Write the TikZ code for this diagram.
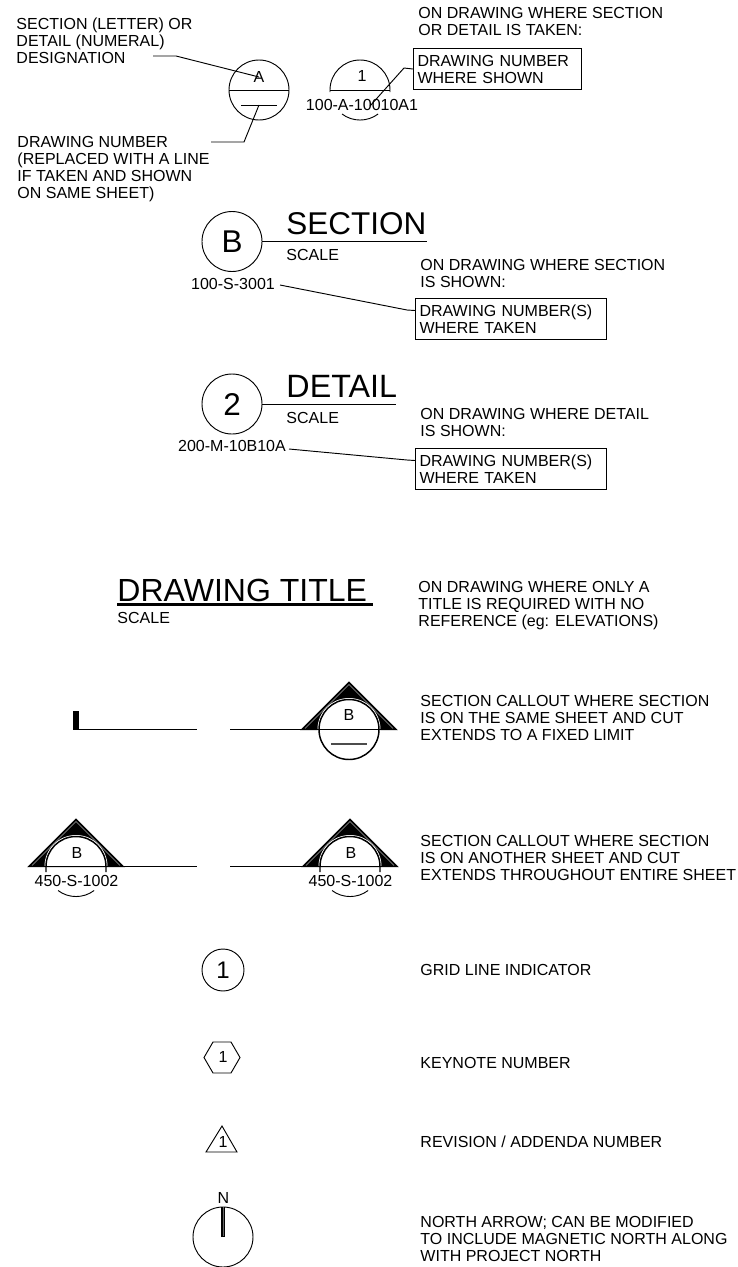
\documentclass[tikz,border=0pt]{standalone}
\usepackage{fontspec}
\setmainfont{Liberation Sans}
\tikzset{
  lbl/.style={font=\fontsize{12}{12.75}\selectfont,align=left,inner sep=0pt,anchor=north west},
  cen/.style={font=\fontsize{12}{12.75}\selectfont,inner sep=0pt},
  big/.style={font=\fontsize{23.6}{24}\selectfont,inner sep=0pt},
  refbox/.style={lbl,draw,line width=.8pt,text width=120pt,minimum height=30.75pt,inner xsep=3pt,inner ysep=0pt},
  heavy/.style={line width=1.1pt}
}
\begin{document}
\begin{tikzpicture}[x=.75pt,y=-.75pt,line width=.7pt]
  \useasboundingbox (0,0) rectangle (738,1267);
  % enlarged detail key
  \draw (259,90) circle(30);
  \coordinate (rule) at (259,105);
  \draw (229,90) -- (289,90);
  \draw (241,105) -- (277,105);
  \node[cen] (lettera) at (259,77) {A};
  \node[lbl] (desig) at (16,17) {SECTION (LETTER) OR\\DETAIL (NUMERAL)\\DESIGNATION};
  \node[lbl] (drawnum) at (17,136) {DRAWING NUMBER\\(REPLACED WITH A LINE\\IF TAKEN AND SHOWN\\ON SAME SHEET)};
  \coordinate (desigend) at (153,56);
  \coordinate (numend) at (211,142);
  \draw (desigend) -- (176,56) -- (lettera.center);
  \draw (numend) -- (244,142) -- (rule);
  \draw (330,92) -- (330,90) arc[start angle=180,end angle=360,radius=30] -- (390,92);
  \draw (330,90) -- (390,90);
  \draw (342,114) arc[start angle=127,end angle=53,radius=30];
  \node[cen] (numone) at (362,76) {1};
  \node[cen] (takena) at (362,105) {100-A-10010A1};
  \node[lbl] (ontaken) at (418,7) {ON DRAWING WHERE SECTION\\OR DETAIL IS TAKEN:};
  \node[refbox] (boxa) at (413,48) {DRAWING NUMBER\\WHERE SHOWN};
  \draw (370,106) -- (404,68) -- (boxa.west);
  % section mark
  \draw (232,241.5) circle(30);
  \node[big] (letterb) at (232,242) {B};
  \draw (262,241.5) -- (427,241.5);
  \node[big,anchor=base west] (sectitle) at (286,234) {SECTION};
  \node[cen,anchor=west] (secscale) at (286,255) {SCALE};
  \node[cen] (secref) at (233,284) {100-S-3001};
  \node[lbl] (onsec) at (420,259) {ON DRAWING WHERE SECTION\\IS SHOWN:};
  \node[refbox,text width=137pt] (boxb) at (415,298) {DRAWING NUMBER(S)\\WHERE TAKEN};
  \coordinate (secfree) at (280,285);
  \draw (secfree) -- (407,310) -- ([yshift=6.4pt]boxb.west);
  % detail mark
  \draw (232,404) circle(30);
  \node[big] (numtwo) at (232,405) {2};
  \draw (262,404) -- (396,404);
  \node[big,anchor=base west,font=\fontsize{24.2}{24}\selectfont] (dettitle) at (286,397) {DETAIL};
  \node[cen,anchor=west] (detscale) at (286,418) {SCALE};
  \node[cen] (detref) at (232,446) {200-M-10B10A};
  \node[lbl] (ondet) at (420,408) {ON DRAWING WHERE DETAIL\\IS SHOWN:};
  \node[refbox,text width=137pt] (boxc) at (415,448) {DRAWING NUMBER(S)\\WHERE TAKEN};
  \coordinate (detfree) at (289,449);
  \draw (detfree) -- (407,460) -- ([yshift=6.4pt]boxc.west);
  % title only
  \node[big,anchor=base west,font=\fontsize{24}{24}\selectfont] (drawtitle) at (117,601) {DRAWING TITLE};
  \draw[line width=1.9pt] (117,604.5) -- (373,604.5);
  \node[cen,anchor=west] (titlescale) at (117,618) {SCALE};
  \node[lbl] (ontitle) at (418,581) {ON DRAWING WHERE ONLY A\\TITLE IS REQUIRED WITH NO\\REFERENCE (eg: ELEVATIONS)};
  % section callouts
  \foreach \cx/\cy in {349/729.5,76/866.5,350/866.5} {
    \filldraw[heavy,line join=miter] (\cx-47,\cy) -- (\cx,\cy-47) -- (\cx+47,\cy) -- cycle;
    \draw[black!35,line width=.3pt] (\cx-44,\cy-1) -- (\cx,\cy-45) -- (\cx+44,\cy-1);
  }
  \fill[black] (73,711) rectangle (79,730);
  \draw[heavy] (79,729.5) -- (197,729.5);
  \draw[heavy] (230,729.5) -- (302,729.5);
  \fill[white] (349,729.5) circle(31.5);
  \draw[heavy] (349,729.5) circle(30);
  \draw[heavy] (302,729.5) -- (396,729.5);
  \draw[line width=.9pt,black!70] (331,744) -- (367,744);
  \node[cen] (letterc) at (349,715) {B};
  \foreach \cx/\nm in {76/d,350/e} {
    \fill[white] (\cx-31.5,866.5) arc[start angle=180,end angle=360,radius=31.5] -- cycle;
    \draw[heavy] (\cx-30,872) -- (\cx-30,866.5) arc[start angle=180,end angle=360,radius=30] -- (\cx+30,872);
    \draw[heavy] (\cx-47,866.5) -- (\cx+47,866.5);
    \draw (\cx-18,890.5) arc[start angle=127,end angle=53,radius=30];
    \node[cen] (letter\nm) at (\cx+1,853) {B};
    \node[cen] (ref\nm) at (\cx+.5,881) {450-S-1002};
  }
  \draw[heavy] (123,866.5) -- (197,866.5);
  \draw[heavy] (230,866.5) -- (303,866.5);
  \node[lbl] (onsame) at (420,695) {SECTION CALLOUT WHERE SECTION\\IS ON THE SAME SHEET AND CUT\\EXTENDS TO A FIXED LIMIT};
  \node[lbl] (onother) at (420,835) {SECTION CALLOUT WHERE SECTION\\IS ON ANOTHER SHEET AND CUT\\EXTENDS THROUGHOUT ENTIRE SHEET};
  % symbols
  \draw (223,970) circle(21);
  \node[big,font=\fontsize{18}{18}\selectfont] (gridnum) at (223,970) {1};
  \node[lbl,anchor=west] (gridlbl) at (420,970) {GRID LINE INDICATOR};
  \draw (204,1057.5) -- (213,1042) -- (231,1042) -- (240,1057.5) -- (231,1073) -- (213,1073) -- cycle;
  \node[cen] (keynum) at (223,1057) {1};
  \node[lbl,anchor=west] (keylbl) at (420,1063) {KEYNOTE NUMBER};
  \draw (222,1126) -- (237,1152) -- (206,1152) -- cycle;
  \node[cen] (revnum) at (223,1142) {1};
  \node[lbl,anchor=west] (revlbl) at (420,1142) {REVISION / ADDENDA NUMBER};
  \node[cen] (north) at (223.5,1198) {N};
  \draw (223,1237) circle(30);
  \draw[line width=2.4pt] (223,1207) -- (223,1237);
  \draw[black!60,line width=.6pt] (223,1207) -- (223,1236);
  \node[lbl] (northlbl) at (420,1216) {NORTH ARROW; CAN BE MODIFIED\\TO INCLUDE MAGNETIC NORTH ALONG\\WITH PROJECT NORTH};
\end{tikzpicture}
\end{document}
